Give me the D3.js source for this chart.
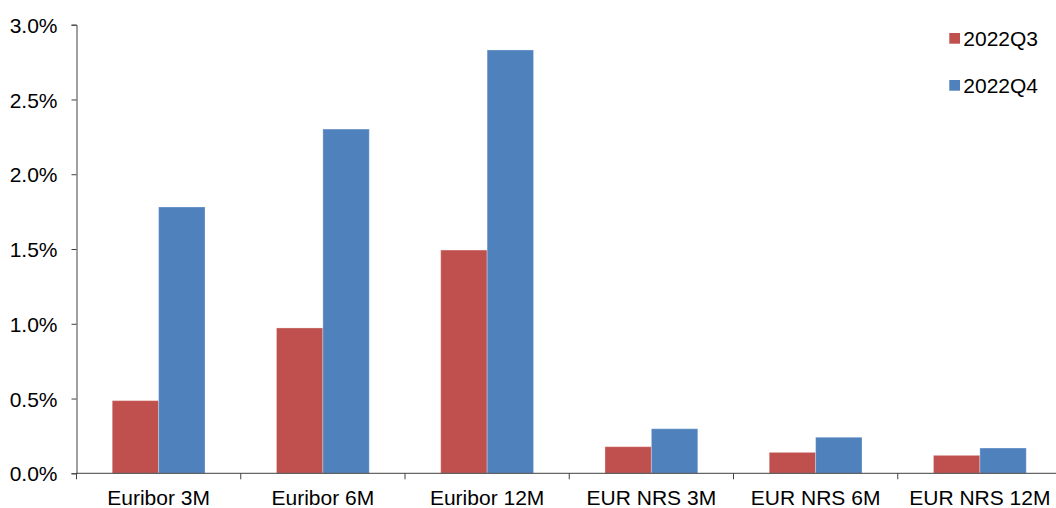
<!DOCTYPE html>
<html>
<head>
<meta charset="utf-8">
<script src="https://cdn.jsdelivr.net/npm/d3@7/dist/d3.min.js"></script>
<style>
  html, body { margin: 0; padding: 0; background: #fff; }
  svg { display: block; }
  text { font-family: "Liberation Sans", Arial, sans-serif; fill: #000; }
</style>
</head>
<body>
<svg id="chart" width="1056" height="508"></svg>
<script>
// Interest rate levels by instrument, per quarter (percent)
const categories = ["Euribor 3M", "Euribor 6M", "Euribor 12M", "EUR NRS 3M", "EUR NRS 6M", "EUR NRS 12M"];
const seriesNames = ["2022Q3", "2022Q4"];
const values2022Q3 = [0.486, 0.972, 1.493, 0.178, 0.140, 0.120];
const values2022Q4 = [1.781, 2.302, 2.831, 0.298, 0.241, 0.169];
const yTicks = [0, 0.5, 1.0, 1.5, 2.0, 2.5, 3.0];
const colors = ["#C0504D", "#4F81BD"];

const seriesValues = [values2022Q3, values2022Q4];
const rows = categories.map((c, i) => ({
  category: c,
  values: seriesNames.map((s, j) => ({ series: s, value: seriesValues[j][i], idx: j }))
}));

const svg = d3.select("#chart");
const plotLeft = 76.5, plotRight = 1062, plotTop = 24.7, plotBottom = 473.3;

const x0 = d3.scaleBand().domain(categories).range([plotLeft, plotRight]).padding(0);
const groupPad = x0.bandwidth() * 0.2175;
const x1 = d3.scaleBand().domain(seriesNames)
  .range([groupPad, x0.bandwidth() - groupPad]).padding(0);
const y = d3.scaleLinear().domain([0, 3]).range([plotBottom, plotTop]);

// Bars
const groups = svg.append("g").selectAll("g")
  .data(rows).join("g")
  .attr("transform", d => `translate(${x0(d.category)},0)`);

groups.selectAll("rect")
  .data(d => d.values).join("rect")
  .attr("x", d => x1(d.series))
  .attr("width", x1.bandwidth())
  .attr("y", d => y(d.value))
  .attr("height", d => y(0) - y(d.value))
  .attr("fill", d => colors[d.idx])
  .attr("stroke", "rgba(255,255,255,0.3)")
  .attr("stroke-width", 1);

// Y axis
const yAxis = svg.append("g")
  .attr("transform", `translate(${plotLeft},0)`)
  .call(d3.axisLeft(y).tickValues(yTicks)
    .tickFormat(d => d.toFixed(1) + "%").tickSize(5).tickPadding(14));
yAxis.select(".domain").attr("stroke", "#404040");
yAxis.selectAll(".tick line").attr("stroke", "#404040");
yAxis.selectAll(".tick text")
  .attr("font-size", 21).attr("fill", "#000")
  .attr("font-family", "'Liberation Sans', Arial, sans-serif")
  .attr("dy", "0.36em");

// X axis: ticks at category boundaries
const xAxisG = svg.append("g").attr("transform", `translate(0,${plotBottom})`);
xAxisG.append("line")
  .attr("x1", plotLeft).attr("x2", plotRight)
  .attr("stroke", "#404040");
const boundaries = categories.map(c => x0(c)).concat([x0(categories[categories.length - 1]) + x0.step()]);
xAxisG.selectAll("line.tk").data(boundaries).join("line")
  .attr("class", "tk")
  .attr("x1", d => d).attr("x2", d => d)
  .attr("y1", 0).attr("y2", 6)
  .attr("stroke", "#404040");
xAxisG.selectAll("text").data(categories).join("text")
  .attr("x", d => x0(d) + x0.bandwidth() / 2)
  .attr("y", 32)
  .attr("text-anchor", "middle")
  .attr("font-size", 21)
  .text(d => d);

// Legend
const legend = svg.append("g").selectAll("g")
  .data(seriesNames).join("g")
  .attr("transform", (d, i) => `translate(949.3,${38.3 + i * 47})`);
legend.append("rect")
  .attr("x", 0).attr("y", -5.3)
  .attr("width", 10.7).attr("height", 10.7)
  .attr("fill", (d, i) => colors[i]);
legend.append("text")
  .attr("x", 14).attr("y", 7.8)
  .attr("font-size", 21)
  .text(d => d);
</script>
</body>
</html>
